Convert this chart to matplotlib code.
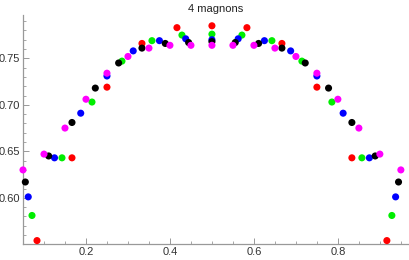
import matplotlib
matplotlib.use("Agg")
import matplotlib.pyplot as plt
import numpy as np
from matplotlib.ticker import MultipleLocator, FixedLocator

plt.rcParams["font.family"] = ["Liberation Sans", "DejaVu Sans"]

# chain lengths, one series per colour
sizes = [12, 14, 16, 18, 20]
colors = ["#ff0000", "#00ee00", "#0000ff", "#000000", "#ff00ff"]

# energies, k = 1 .. N-1
e12 = [0.554, 0.643, 0.719, 0.766, 0.783, 0.785, 0.783, 0.766, 0.719, 0.643, 0.554]
e14 = [0.581, 0.643, 0.703, 0.747, 0.769, 0.775, 0.776, 0.775, 0.769, 0.747, 0.703, 0.643, 0.581]
e16 = [0.601, 0.643, 0.691, 0.731, 0.758, 0.769, 0.771, 0.770, 0.771, 0.769, 0.758,
       0.731, 0.691, 0.643, 0.601]
e18 = [0.617, 0.645, 0.681, 0.718, 0.745, 0.761, 0.766, 0.767, 0.768, 0.767, 0.766,
       0.761, 0.745, 0.718, 0.681, 0.645, 0.617]
e20 = [0.630, 0.647, 0.675, 0.706, 0.734, 0.752, 0.761, 0.764, 0.764, 0.764, 0.764,
       0.764, 0.761, 0.752, 0.734, 0.706, 0.675, 0.647, 0.630]
energies = [e12, e14, e16, e18, e20]

xticks = [0.2, 0.4, 0.6, 0.8]
yticks = [0.60, 0.65, 0.70, 0.75]

fig = plt.figure(figsize=(4.09, 2.60), dpi=100)
ax = fig.add_axes([23 / 409, 1 - 244.3 / 260, 385 / 409, 229.3 / 260])

for n, e, c in zip(sizes, energies, colors):
    x = np.arange(1, n) / n
    ax.scatter(x, e, s=26, color=c, edgecolors="none", clip_on=False, zorder=3)

ax.set_xlim(0.05, 0.967)
ax.set_ylim(0.55, 0.7966)

for side in ["top", "right"]:
    ax.spines[side].set_visible(False)
for side in ["left", "bottom"]:
    ax.spines[side].set_color("#999999")
    ax.spines[side].set_linewidth(0.9)

ax.xaxis.set_major_locator(FixedLocator(xticks))
ax.yaxis.set_major_locator(FixedLocator(yticks))
ax.xaxis.set_minor_locator(MultipleLocator(0.05))
ax.yaxis.set_minor_locator(MultipleLocator(0.01))
ax.set_xticklabels([f"{v:.1f}" for v in xticks])
ax.set_yticklabels([f"{v:.2f}" for v in yticks])
ax.tick_params(which="both", direction="in", color="#999999", labelsize=8, labelcolor="#333333")
ax.tick_params(which="major", length=4, width=0.7, pad=2)
ax.tick_params(which="minor", length=2, width=0.6)

ax.set_title("4 magnons", fontsize=8, color="#222222", pad=2)

fig.savefig("out.png", dpi=100)
